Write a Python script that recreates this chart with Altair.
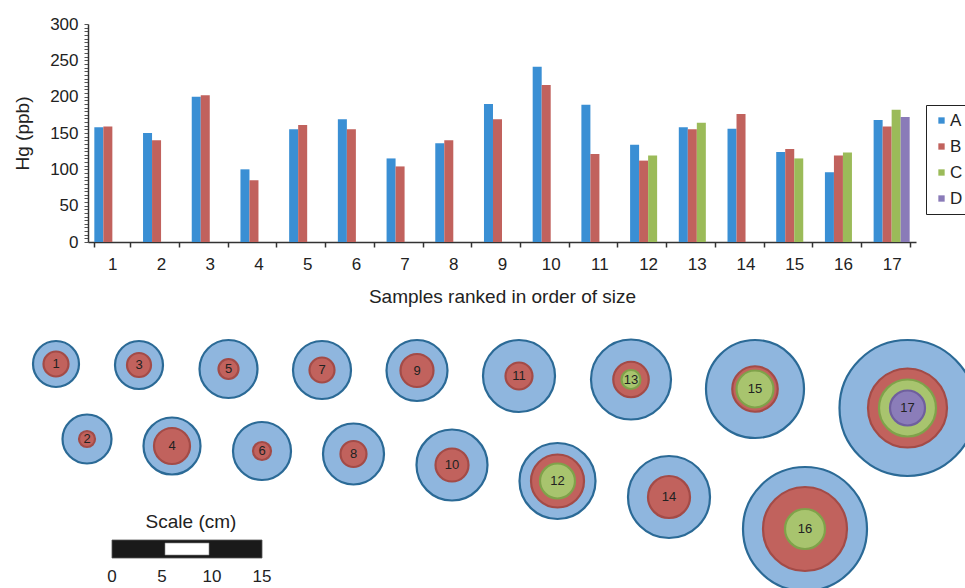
import altair as alt
import pandas as pd

# ---------------- data ----------------
samples = list(range(1, 18))
series = ["A", "B", "C", "D"]

hg_A = [158, 150, 200, 100, 155, 169, 115, 136, 190, 241, 189, 134, 158, 156, 124, 96, 168]
hg_B = [159, 140, 202, 85, 161, 155, 104, 140, 169, 216, 121, 112, 155, 176, 128, 119, 159]
hg_C = [None] * 11 + [119, 164, None, 115, 123, 182]
hg_D = [None] * 16 + [172]

# circle layout (cm) and ring diameters (cm)
circle_x = [5.6, 8.7, 13.9, 17.2, 22.85, 26.2, 32.2, 35.35, 41.7, 45.2, 51.9, 55.75, 63.1, 66.9, 75.5, 80.5, 90.75]
circle_y = [36.4, 43.9, 36.5, 44.6, 36.9, 45.1, 37.0, 45.4, 37.05, 46.5, 37.6, 48.1, 37.95, 49.7, 38.9, 52.9, 40.8]
diam_A = [4.6, 4.9, 4.8, 5.7, 5.8, 5.8, 5.8, 6.1, 6.1, 7.1, 7.2, 7.6, 8.0, 8.2, 9.8, 12.4, 13.6]
diam_B = [2.5, 1.6, 2.4, 3.6, 2.0, 1.8, 2.5, 2.6, 3.3, 3.3, 2.7, 5.3, 3.55, 4.2, 4.55, 8.4, 7.9]
diam_C = [None] * 11 + [3.5, 1.9, None, 3.7, 4.0, 5.7]
diam_D = [None] * 16 + [3.5]

scale_ticks = [0, 5, 10, 15]
scale_origin = 11.2
scale_bar_top = 54.0
scale_bar_bottom = 55.8
scale_title_y = 52.2
scale_label_y = 57.7

bar_colors = ["#3a8fd4", "#c1625d", "#9bbb59", "#8a7bb8"]
ring_fill = ["#8fb6de", "#c1625d", "#a8c46e", "#8b7db9"]
ring_stroke = ["#2b6a96", "#a34b47", "#7fa24a", "#6f5f9e"]

FONT = "Liberation Sans"

# ---------------- tables ----------------
bar_rows = []
for s, vals in zip(series, [hg_A, hg_B, hg_C, hg_D]):
    for smp, v in zip(samples, vals):
        if v is not None:
            bar_rows.append({"sample": smp, "series": s, "hg": v})
bars_df = pd.DataFrame(bar_rows)

ring_rows = []
for s, diams in zip(series, [diam_A, diam_B, diam_C, diam_D]):
    for smp, cx, cy, d in zip(samples, circle_x, circle_y, diams):
        if d is not None:
            ring_rows.append({"sample": smp, "series": s, "cx": cx, "cy": cy, "d": d})
rings_df = pd.DataFrame(ring_rows)

label_df = pd.DataFrame({"sample": [str(s) for s in samples], "cx": circle_x, "cy": circle_y})

bar_black_df = pd.DataFrame({"x": [scale_origin + scale_ticks[0]], "x2": [scale_origin + scale_ticks[-1]],
                             "y": [scale_bar_top], "y2": [scale_bar_bottom]})
bar_white_df = pd.DataFrame({"x": [scale_origin + scale_ticks[1]], "x2": [scale_origin + scale_ticks[2]],
                             "y": [scale_bar_top], "y2": [scale_bar_bottom]})
tick_df = pd.DataFrame({"x": [scale_origin + t for t in scale_ticks], "y": [scale_label_y] * len(scale_ticks),
                        "label": [str(t) for t in scale_ticks]})
scale_title_df = pd.DataFrame({"x": [scale_origin + scale_ticks[-1] / 2 + 0.4], "y": [scale_title_y],
                               "label": ["Scale (cm)"]})

W, H = 965, 588

# ---------------- bar chart ----------------
x_band = alt.Scale(domain=samples, range=[88, 916], paddingInner=0.26, paddingOuter=0.13)
y_hg = alt.Scale(domain=[0, 300], range=[242, 24], nice=False)

bars = alt.Chart(bars_df).mark_bar().encode(
    x=alt.X("sample:O", scale=x_band, sort=samples,
            axis=alt.Axis(title="Samples ranked in order of size", labelAngle=0, tickBand="extent",
                          offset=-(H - 242), tickSize=5, labelPadding=9, labelFontSize=17,
                          labelColor="#222", titleFontSize=19, titleFontWeight="normal",
                          titleColor="#222", titleY=60, titleBaseline="alphabetic",
                          domainColor="#333", domainWidth=1.5, tickColor="#333", tickWidth=1.5)),
    xOffset=alt.XOffset("series:N", scale=alt.Scale(domain=series)),
    y=alt.Y("hg:Q", scale=y_hg,
            axis=alt.Axis(title="Hg (ppb)", values=list(range(0, 305, 5)),
                          labelExpr="datum.value % 50 === 0 ? datum.label : ''",
                          offset=-88, tickSize=4, labelPadding=6, labelFontSize=17, labelColor="#222",
                          titleFontSize=19, titleFontWeight="normal", titleColor="#222",
                          titleX=-66, titleY=133, titleAngle=270, titleBaseline="middle",
                          titleAlign="center", grid=False,
                          domainColor="#333", domainWidth=1.5, tickColor="#555", tickWidth=1)),
    color=alt.Color("series:N", scale=alt.Scale(domain=series, range=bar_colors),
                    legend=alt.Legend(title=None, orient="none", legendX=926, legendY=105,
                                      symbolType="square", symbolSize=40, symbolStrokeWidth=0,
                                      labelFontSize=17, labelColor="#222", strokeColor="#222",
                                      padding=7, symbolOffset=0, labelOffset=0, rowPadding=8,
                                      fillColor="white")),
)

# ---------------- circle diagram ----------------
x_cm = alt.Scale(domain=[0, W / 10], range=[0, W], nice=False, zero=False)
y_cm = alt.Scale(domain=[0, H / 10], range=[0, H], nice=False, zero=False)
size_cm = alt.Scale(type="pow", exponent=2, domain=[0, 10], range=[0, 10000])

rings = alt.Chart(rings_df).mark_point(filled=True, shape="circle", opacity=1, strokeWidth=2.2).encode(
    x=alt.X("cx:Q", scale=x_cm, axis=None),
    y=alt.Y("cy:Q", scale=y_cm, axis=None),
    size=alt.Size("d:Q", scale=size_cm, legend=None),
    fill=alt.Fill("series:N", scale=alt.Scale(domain=series, range=ring_fill), legend=None),
    stroke=alt.Stroke("series:N", scale=alt.Scale(domain=series, range=ring_stroke), legend=None),
)

ring_labels = alt.Chart(label_df).mark_text(fontSize=13, color="#222", baseline="middle", align="center").encode(
    x=alt.X("cx:Q", scale=x_cm, axis=None),
    y=alt.Y("cy:Q", scale=y_cm, axis=None),
    text="sample:N",
)

bar_black = alt.Chart(bar_black_df).mark_rect(color="#1a1a1a", stroke="#555", strokeWidth=0.8).encode(
    x=alt.X("x:Q", scale=x_cm, axis=None), x2="x2:Q",
    y=alt.Y("y:Q", scale=y_cm, axis=None), y2="y2:Q",
)
bar_white = alt.Chart(bar_white_df).mark_rect(color="white", xOffset=3, x2Offset=-3, yOffset=3, y2Offset=-3,
                                              stroke="#888", strokeWidth=0.6).encode(
    x=alt.X("x:Q", scale=x_cm, axis=None), x2="x2:Q",
    y=alt.Y("y:Q", scale=y_cm, axis=None), y2="y2:Q",
)
tick_text = alt.Chart(tick_df).mark_text(fontSize=17, color="#222", baseline="middle", align="center").encode(
    x=alt.X("x:Q", scale=x_cm, axis=None),
    y=alt.Y("y:Q", scale=y_cm, axis=None),
    text="label:N",
)
scale_title = alt.Chart(scale_title_df).mark_text(fontSize=19, color="#222", baseline="middle", align="center").encode(
    x=alt.X("x:Q", scale=x_cm, axis=None),
    y=alt.Y("y:Q", scale=y_cm, axis=None),
    text="label:N",
)

chart = alt.layer(bars, rings, ring_labels, bar_black, bar_white, tick_text, scale_title).resolve_scale(
    x="independent", y="independent"
).properties(
    width=W, height=H, padding=0, autosize=alt.AutoSizeParams(type="none"), background="white"
).configure(font=FONT).configure_view(stroke=None)

chart.save("out.html", embed_options={"renderer": "svg", "actions": False})
